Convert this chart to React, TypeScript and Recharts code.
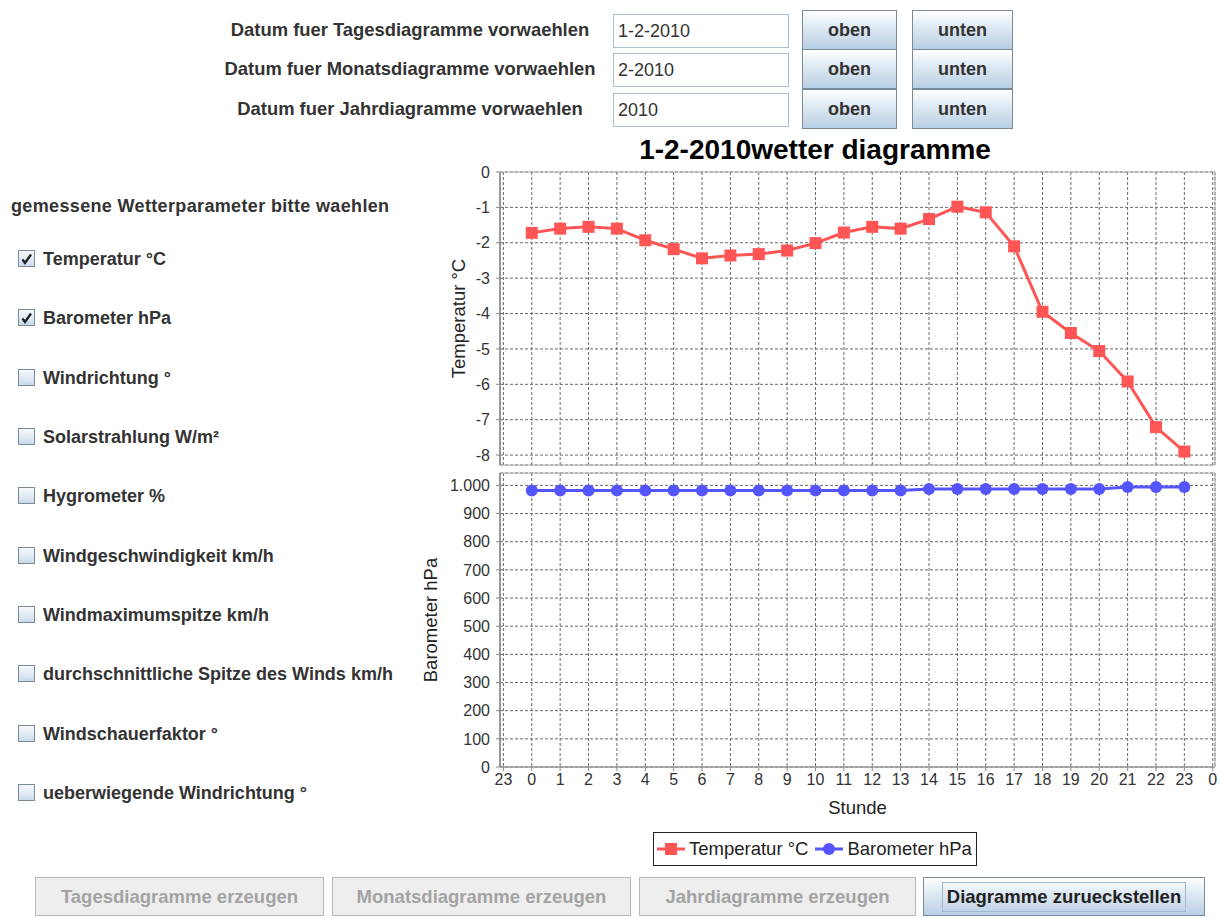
import React from 'react';
import { LineChart, Line, XAxis, YAxis, CartesianGrid, Legend, ReferenceArea } from 'recharts';

// ---------- data ----------
const hours = [0, 1, 2, 3, 4, 5, 6, 7, 8, 9, 10, 11, 12, 13, 14, 15, 16, 17, 18, 19, 20, 21, 22, 23];
const temperature = [-1.72, -1.6, -1.55, -1.6, -1.93, -2.18, -2.44, -2.36, -2.32, -2.22, -2.01, -1.71, -1.55, -1.6, -1.33, -0.98, -1.14, -2.1, -3.95, -4.55, -5.06, -5.92, -7.21, -7.9];
const barometer = [982, 982, 982, 982, 982, 982, 982, 982, 982, 982, 982, 982, 982, 982, 987, 987, 987, 987, 987, 987, 987, 994, 994, 994];

const hourTicks = [-1, 0, 1, 2, 3, 4, 5, 6, 7, 8, 9, 10, 11, 12, 13, 14, 15, 16, 17, 18, 19, 20, 21, 22, 23, 24];
const hourTickLabels = ['23', '0', '1', '2', '3', '4', '5', '6', '7', '8', '9', '10', '11', '12', '13', '14', '15', '16', '17', '18', '19', '20', '21', '22', '23', '0'];
const hourDomain = [-1.12, 24.08];

const tempTicks = [0, -1, -2, -3, -4, -5, -6, -7, -8];
const tempDomain = [-8.28, 0];
const baroTicks = [0, 100, 200, 300, 400, 500, 600, 700, 800, 900, 1000];
const baroDomain = [0, 1044];

const seriesNames = ['Temperatur °C', 'Barometer hPa'];
const seriesColors = ['#FF5555', '#5555FF'];
const seriesShapes = ['square', 'circle'];

const chartTitle = '1-2-2010wetter diagramme';
const xAxisTitle = 'Stunde';

const dateLabels = ['Datum fuer Tagesdiagramme vorwaehlen', 'Datum fuer Monatsdiagramme vorwaehlen', 'Datum fuer Jahrdiagramme vorwaehlen'];
const dateValues = ['1-2-2010', '2-2010', '2010'];
const stepButtons = ['oben', 'unten'];

const paramHeader = 'gemessene Wetterparameter bitte waehlen';
const paramLabels = [
  'Temperatur °C',
  'Barometer hPa',
  'Windrichtung °',
  'Solarstrahlung W/m²',
  'Hygrometer %',
  'Windgeschwindigkeit km/h',
  'Windmaximumspitze km/h',
  'durchschnittliche Spitze des Winds km/h',
  'Windschauerfaktor °',
  'ueberwiegende Windrichtung °',
];
const paramChecked = [true, true, false, false, false, false, false, false, false, false];

const actionButtons = ['Tagesdiagramme erzeugen', 'Monatsdiagramme erzeugen', 'Jahrdiagramme erzeugen', 'Diagramme zurueckstellen'];
const actionEnabled = [false, false, false, true];

// ---------- styles ----------
const UI_FONT = '"Liberation Sans", Arial, sans-serif';
const CHART_FONT = '"Liberation Sans", Arial, sans-serif';
const gridColor = '#6a6a6a';
const axisColor = '#8a8a8a';

const data = hours.map((h, i) => ({ hour: h, temp: temperature[i], baro: barometer[i] }));

const fmtHour = (v: number) => {
  const i = hourTicks.indexOf(v);
  return i >= 0 ? hourTickLabels[i] : String(v);
};
const fmtGerman = (v: number) => {
  const s = String(Math.round(v));
  return s.replace(/\B(?=(\d{3})+(?!\d))/g, '.');
};

const yLabel = (text: string, dx: number) => (props: any) => {
  const vb = props.viewBox || { x: 0, y: 0, width: 0, height: 0 };
  const x = vb.x + dx;
  const y = vb.y + vb.height / 2;
  return (
    <text
      x={x}
      y={y}
      transform={`rotate(-90 ${x} ${y})`}
      textAnchor="middle"
      dominantBaseline="central"
      fill="#222"
      style={{ fontFamily: CHART_FONT, fontSize: 18.5 }}
    >
      {text}
    </text>
  );
};

const xLabel = (text: string, dy: number) => (props: any) => {
  const vb = props.viewBox || { x: 0, y: 0, width: 0, height: 0 };
  const x = vb.x + vb.width / 2;
  const y = vb.y + dy;
  return (
    <text x={x} y={y} textAnchor="middle" dominantBaseline="central" fill="#222" style={{ fontFamily: CHART_FONT, fontSize: 18.5 }}>
      {text}
    </text>
  );
};

const SquareDot = (props: any) => {
  const { cx, cy, index } = props;
  if (cx == null || cy == null) return <g key={index} />;
  return <rect key={index} x={cx - 6} y={cy - 6} width={12} height={12} fill={seriesColors[0]} />;
};

const LegendIcon = ({ color, shape }: { color: string; shape: string }) => (
  <svg width={30} height={14} style={{ display: 'block' }}>
    <line x1={1} y1={7} x2={29} y2={7} stroke={color} strokeWidth={3} />
    {shape === 'square' ? (
      <rect x={9} y={1} width={12} height={12} fill={color} />
    ) : (
      <circle cx={15} cy={7} r={6} fill={color} />
    )}
  </svg>
);

const renderLegend = () => (
  <div
    style={{
      display: 'flex',
      alignItems: 'center',
      border: '1px solid #222',
      background: '#fff',
      height: 34,
      padding: '0 4px 0 2px',
      boxSizing: 'border-box',
      fontFamily: CHART_FONT,
      fontSize: 18.5,
      color: '#222',
      whiteSpace: 'nowrap',
    }}
  >
    {seriesNames.map((n, i) => (
      <div key={n} style={{ display: 'flex', alignItems: 'center', marginRight: i === 0 ? 6 : 0 }}>
        <LegendIcon color={seriesColors[i]} shape={seriesShapes[i]} />
        <span style={{ marginLeft: 3 }}>{n}</span>
      </div>
    ))}
  </div>
);

const tickStyle = { fill: '#333', fontSize: 16, fontFamily: CHART_FONT };

// ---------- UI pieces ----------
const buttonGradient = 'linear-gradient(to bottom, #ffffff 0%, #e4edf6 35%, #c9daea 75%, #b8cfe5 100%)';

const StepButton = ({ text, left, top, width, height }: any) => (
  <div
    style={{
      position: 'absolute',
      left,
      top,
      width,
      height,
      boxSizing: 'border-box',
      border: '1px solid #7a8a99',
      background: buttonGradient,
      display: 'flex',
      alignItems: 'center',
      justifyContent: 'center',
      fontFamily: UI_FONT,
      fontWeight: 'bold',
      fontSize: 18,
      color: '#333',
    }}
  >
    {text}
  </div>
);

const CheckBox = ({ checked, top }: any) => (
  <div
    style={{
      position: 'absolute',
      left: 18,
      top,
      width: 17,
      height: 17,
      boxSizing: 'border-box',
      border: '1px solid #7a8a99',
      background: 'linear-gradient(to bottom, #f4f8fb 0%, #dfe9f3 60%, #c8d9ea 100%)',
    }}
  >
    {checked && (
      <svg width={15} height={15} style={{ position: 'absolute', left: 0, top: 0 }}>
        <path d="M3.5 8.5 L6 12 L12 3.5" stroke="#222" strokeWidth={2.4} fill="none" />
      </svg>
    )}
  </div>
);

export default function App() {
  const rowTops = [10, 49, 89];
  const paramRowCenters = [259, 318, 378, 437, 496, 556, 615, 674, 734, 793];
  const actionX = [
    [35, 324],
    [332, 631],
    [639, 916],
    [923, 1205],
  ];

  return (
    <div style={{ position: 'absolute', left: 0, top: 0, width: 1220, height: 918, background: '#ffffff', overflow: 'hidden' }}>
      {/* date selection rows */}
      {dateLabels.map((lab, i) => (
        <React.Fragment key={lab}>
          <div
            style={{
              position: 'absolute',
              left: 210,
              width: 400,
              top: rowTops[i],
              height: 40,
              lineHeight: '40px',
              textAlign: 'center',
              fontFamily: UI_FONT,
              fontWeight: 'bold',
              fontSize: 18.4,
              color: '#333',
              whiteSpace: 'nowrap',
            }}
          >
            {lab}
          </div>
          <div
            style={{
              position: 'absolute',
              left: 613,
              top: rowTops[i] + 4,
              width: 176,
              height: 34,
              boxSizing: 'border-box',
              border: '1px solid #a9bfd4',
              background: '#fff',
              paddingLeft: 4,
              lineHeight: '32px',
              fontFamily: UI_FONT,
              fontSize: 18,
              color: '#333',
            }}
          >
            {dateValues[i]}
          </div>
          <StepButton text={stepButtons[0]} left={802} top={rowTops[i]} width={95} height={40} />
          <StepButton text={stepButtons[1]} left={912} top={rowTops[i]} width={101} height={40} />
        </React.Fragment>
      ))}

      {/* parameter selection */}
      <div
        style={{
          position: 'absolute',
          left: 11,
          top: 194,
          height: 24,
          lineHeight: '24px',
          fontFamily: UI_FONT,
          fontWeight: 'bold',
          fontSize: 18,
          letterSpacing: 0.35,
          color: '#333',
          whiteSpace: 'nowrap',
        }}
      >
        {paramHeader}
      </div>
      {paramLabels.map((lab, i) => (
        <React.Fragment key={lab}>
          <CheckBox checked={paramChecked[i]} top={paramRowCenters[i] - 9} />
          <div
            style={{
              position: 'absolute',
              left: 43,
              top: paramRowCenters[i] - 12,
              height: 24,
              lineHeight: '24px',
              fontFamily: UI_FONT,
              fontWeight: 'bold',
              fontSize: 18,
              color: '#333',
              whiteSpace: 'nowrap',
            }}
          >
            {lab}
          </div>
        </React.Fragment>
      ))}

      {/* chart title */}
      <div
        style={{
          position: 'absolute',
          left: 410,
          width: 810,
          top: 132,
          height: 36,
          lineHeight: '36px',
          textAlign: 'center',
          fontFamily: CHART_FONT,
          fontWeight: 'bold',
          fontSize: 28,
          color: '#000',
        }}
      >
        {chartTitle}
      </div>

      {/* top subplot: temperature */}
      <div style={{ position: 'absolute', left: 400, top: 160 }}>
        <LineChart width={830} height={310} data={data} margin={{ top: 12, right: 15, bottom: 5, left: 0 }}>
          <CartesianGrid stroke={gridColor} strokeDasharray="3 2" />
          <ReferenceArea x1={hourDomain[0]} x2={hourDomain[1]} y1={tempDomain[0]} y2={tempDomain[1]} fill="none" stroke="#b0b0b0" strokeWidth={1} ifOverflow="visible" />
          <XAxis dataKey="hour" type="number" domain={hourDomain} ticks={hourTicks} allowDataOverflow hide />
          <YAxis
            type="number"
            domain={tempDomain}
            ticks={tempTicks}
            allowDataOverflow
            width={100}
            interval={0}
            axisLine={{ stroke: axisColor, strokeWidth: 1.5 }}
            tickLine={{ stroke: axisColor }}
            tickSize={4}
            tickMargin={6}
            tick={tickStyle}
            label={yLabel(seriesNames[0], 58)}
          />
          <Line type="linear" dataKey="temp" stroke={seriesColors[0]} strokeWidth={3} dot={SquareDot} activeDot={false} isAnimationActive={false} />
        </LineChart>
      </div>

      {/* bottom subplot: barometer + shared x axis + legend */}
      <div style={{ position: 'absolute', left: 400, top: 460 }}>
        <LineChart width={830} height={410} data={data} margin={{ top: 13, right: 15, bottom: 53, left: 0 }}>
          <CartesianGrid stroke={gridColor} strokeDasharray="3 2" />
          <ReferenceArea x1={hourDomain[0]} x2={hourDomain[1]} y1={baroDomain[0]} y2={baroDomain[1]} fill="none" stroke="#b0b0b0" strokeWidth={1} ifOverflow="visible" />
          <XAxis
            dataKey="hour"
            type="number"
            domain={hourDomain}
            ticks={hourTicks}
            interval={0}
            allowDataOverflow
            height={50}
            tickFormatter={fmtHour}
            axisLine={{ stroke: axisColor }}
            tickLine={{ stroke: axisColor }}
            tickSize={4}
            tickMargin={3}
            tick={tickStyle}
            label={xLabel(xAxisTitle, 40)}
          />
          <YAxis
            type="number"
            domain={baroDomain}
            ticks={baroTicks}
            allowDataOverflow
            width={100}
            interval={0}
            tickFormatter={fmtGerman}
            axisLine={{ stroke: axisColor, strokeWidth: 1.5 }}
            tickLine={{ stroke: axisColor }}
            tickSize={4}
            tickMargin={6}
            tick={tickStyle}
            label={yLabel(seriesNames[1], 30)}
          />
          <Line
            type="linear"
            dataKey="baro"
            name={seriesNames[1]}
            stroke={seriesColors[1]}
            strokeWidth={3}
            dot={{ r: 6, fill: seriesColors[1], stroke: seriesColors[1], strokeWidth: 0 }}
            activeDot={false}
            isAnimationActive={false}
          />
          <Legend
            layout="horizontal"
            verticalAlign="middle"
            align="center"
            content={renderLegend}
            wrapperStyle={{ left: 253, top: 372, width: 'auto', height: 'auto' }}
          />
        </LineChart>
      </div>

      {/* bottom action buttons */}
      {actionButtons.map((t, i) => {
        const enabled = actionEnabled[i];
        return (
          <div
            key={t}
            style={{
              position: 'absolute',
              left: actionX[i][0],
              top: 877,
              width: actionX[i][1] - actionX[i][0],
              height: 39,
              boxSizing: 'border-box',
              border: enabled ? '1px solid #7a8a99' : '1px solid #b8b8b8',
              background: enabled ? buttonGradient : '#eeeeee',
              display: 'flex',
              alignItems: 'center',
              justifyContent: 'center',
              fontFamily: UI_FONT,
              fontWeight: 'bold',
              fontSize: 18.5,
              color: enabled ? '#222' : '#a3a3a3',
            }}
          >
            {enabled ? (
              <div style={{ border: '1px solid #a3b8cc', padding: '4px 4px', lineHeight: '20px' }}>{t}</div>
            ) : (
              t
            )}
          </div>
        );
      })}
    </div>
  );
}
